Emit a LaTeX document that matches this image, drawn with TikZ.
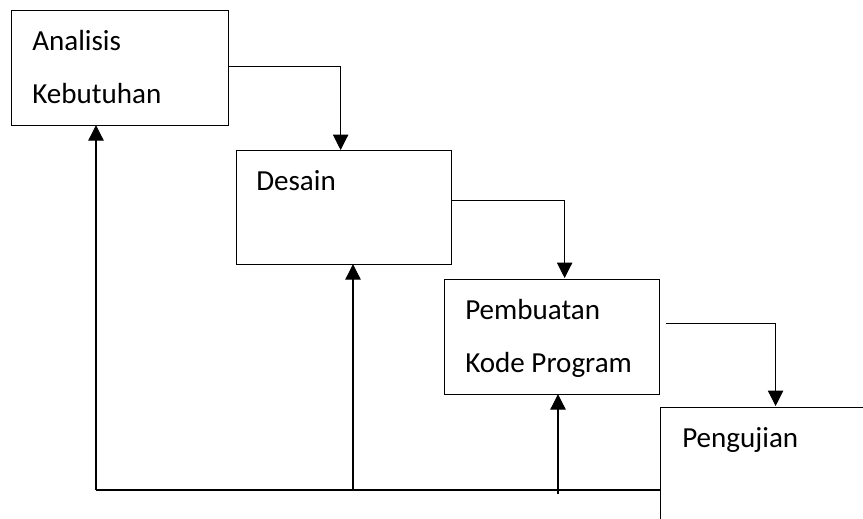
\documentclass[tikz,border=0pt]{standalone}
\usepackage{fontspec}
\setmainfont{Carlito}
\usetikzlibrary{arrows.meta}
\begin{document}
\begin{tikzpicture}[x=0.75pt,y=-0.75pt,
  box/.style={draw, line width=0.9pt, rectangle, inner sep=0pt, anchor=north west},
  lbl/.style={anchor=base west, inner sep=0pt, font=\fontsize{21.8pt}{26pt}\selectfont},
  conn/.style={line width=0.8pt},
  arr/.style={conn, -{Triangle[width=11.5pt,length=11.5pt]}}]
\useasboundingbox (0,0) rectangle (863,518);
\clip (0,0) rectangle (863,518);
% boxes
\node[box, minimum width=162.75pt, minimum height=86.25pt] (b1) at (11,10) {};
\node[box, minimum width=161.25pt, minimum height=85.5pt] (b2) at (236,150) {};
\node[box, minimum width=161.25pt, minimum height=86.25pt] (b3) at (444,279) {};
\node[box, minimum width=187.5pt, minimum height=112.5pt] (b4) at (660,407) {};
% labels
\node[lbl] (t1a) at (32,50) {Analisis};
\node[lbl] (t1b) at (32,103) {Kebutuhan};
\node[lbl] (t2) at (256,190) {Desain};
\node[lbl] (t3a) at (465,319) {Pembuatan};
\node[lbl] (t3b) at (465,372) {Kode Program};
\node[lbl] (t4) at (682,447) {Pengujian};
% forward arrows
\draw[arr] ([yshift=1.1pt]b1.east) -| ([xshift=-2.6pt]b2.north);
\draw[arr] ([yshift=5.25pt]b2.east) -| ([xshift=9.4pt,yshift=0.75pt]b3.north);
\draw[arr] ([xshift=4.5pt,yshift=10.1pt]b3.east) -| ([xshift=-7.5pt,yshift=0.75pt]b4.north);
% feedback
\coordinate (c1) at (96,490);
\coordinate (c2) at (353,490);
\coordinate (c3) at (558,494);
\draw[conn] (b4.west |- c1) -- (c1);
\draw[arr] (c1) -- ([yshift=0.75pt]c1 |- b1.south);
\draw[arr] (c2) -- ([yshift=0.75pt]c2 |- b2.south);
\draw[arr] (c3) -- ([yshift=0.75pt]c3 |- b3.south);
\end{tikzpicture}
\end{document}
